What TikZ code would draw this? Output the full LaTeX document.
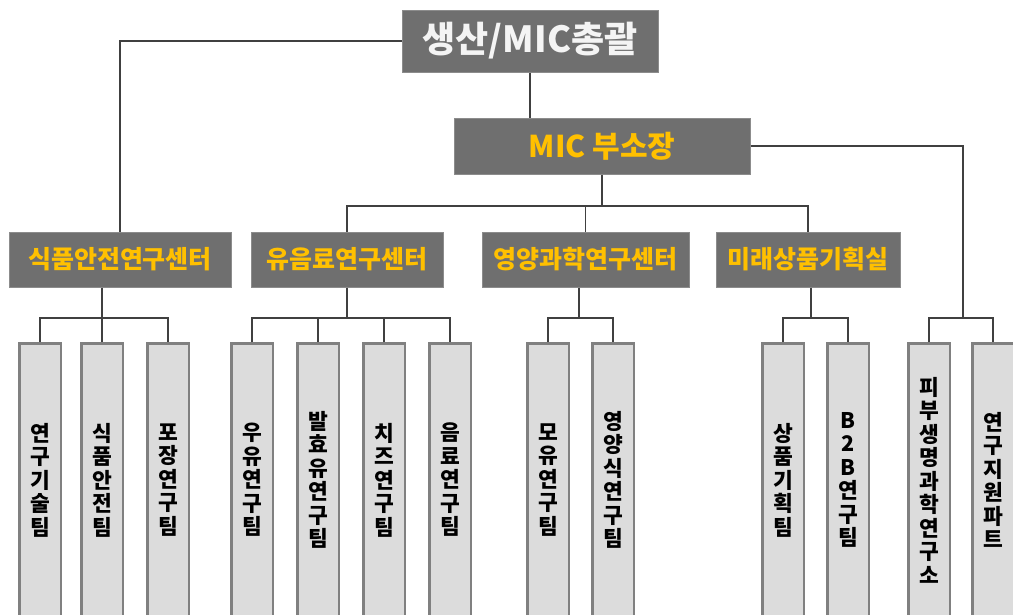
\documentclass[tikz,border=0pt]{standalone}
\usepackage{fontspec}
\setmainfont{Noto Sans CJK KR}

\definecolor{headgray}{HTML}{6F6F6F}
\definecolor{headedge}{HTML}{8C8C8C}
\definecolor{gold}{HTML}{FFC000}
\definecolor{paleword}{HTML}{F4F4F4}
\definecolor{teamfill}{HTML}{DCDCDC}
\definecolor{teamedge}{HTML}{808080}
\definecolor{linegray}{HTML}{404040}

\tikzset{
    head/.style={fill=headgray, draw=headedge, line width=1pt, inner sep=0pt, text=gold},
    team/.style={fill=teamfill, draw=teamedge, line width=2.5pt, inner sep=0pt,
        minimum width=41.5pt, minimum height=273.5pt, align=center,
        font=\bfseries\fontsize{21.5}{23.5}\selectfont},
    link/.style={draw=linegray, line width=1.3pt}
}

\begin{document}
\begin{tikzpicture}[x=1pt, y=1pt]
    \useasboundingbox (0,0) rectangle (1013,-614);

        % top of the chart
        \node[head, minimum width=256pt, minimum height=62pt, text=paleword,
              font=\bfseries\fontsize{36}{38}\selectfont] (top) at (530,-41) {생산/MIC총괄};
        \node[head, minimum width=296pt, minimum height=56pt,
              font=\bfseries\fontsize{30}{32}\selectfont] (mic) at (602,-146) {MIC 부소장};

        % centers
        \begin{scope}[every node/.style={head, minimum height=55pt, font=\bfseries\fontsize{25}{27}\selectfont}]
            \node[minimum width=222pt] (food) at (120,-259.5) {식품안전연구센터};
            \node[minimum width=192pt] (dairy) at (347,-259.5) {유음료연구센터};
            \node[minimum width=207pt] (nutri) at (585.5,-259.5) {영양과학연구센터};
            \node[minimum width=184pt] (future) at (808,-259.5) {미래상품기획실};
        \end{scope}

        % teams
        \begin{scope}[every node/.style={team}]
            \node (f1) at (40,-480) {연\\구\\기\\술\\팀};
            \node (f2) at (102,-480) {식\\품\\안\\전\\팀};
            \node (f3) at (168,-480) {포\\장\\연\\구\\팀};
            
            \node (d1) at (252,-480) {우\\유\\연\\구\\팀};
            \node (d2) at (318,-480) {발\\효\\유\\연\\구\\팀};
            \node (d3) at (384,-480) {치\\즈\\연\\구\\팀};
            \node (d4) at (450,-480) {음\\료\\연\\구\\팀};
            
            \node (n1) at (548,-480) {모\\유\\연\\구\\팀};
            \node (n2) at (613,-480) {영\\양\\식\\연\\구\\팀};
            
            \node (p1) at (783,-480) {상\\품\\기\\획\\팀};
            \node (p2) at (848,-480) {B\\2\\B\\연\\구\\팀};
            
            \node (r1) at (929,-480) {피\\부\\생\\명\\과\\학\\연\\구\\소};
            \node (r2) at (993,-480) {연\\구\\지\\원\\파\\트};
        \end{scope}

        \coordinate (mbus) at (0,-206);
        \coordinate (tbus) at (0,-318);
        \coordinate (rjoin) at (963,-318);

        \begin{scope}[every path/.style={link}]
            \draw (top.west) -| (food.north);
            \draw (top.south) -- (top.south |- mic.north);
            \draw (mic.east) -| (rjoin);
            
            \draw (mic.south) -- (mic.south |- mbus);
            \draw (dairy.north) |- (mbus -| future.north) -- (future.north);
            \draw (nutri.north) -- (nutri.north |- mbus);
            
            \draw (food.south -| f2.north) -- (f2.north);
            \draw (f1.north) |- (tbus -| f3.north) -- (f3.north);
            
            \draw (dairy.south) -- (dairy.south |- tbus);
            \draw (d1.north) |- (tbus -| d4.north) -- (d4.north);
            \draw (d2.north) -- (d2.north |- tbus);
            \draw (d3.north) -- (d3.north |- tbus);
            
            \draw ([xshift=-6.5pt]nutri.south) -- ([xshift=-6.5pt]nutri.south |- tbus);
            \draw (n1.north) |- (tbus -| n2.north) -- (n2.north);
            
            \draw ([xshift=3pt]future.south) -- ([xshift=3pt]future.south |- tbus);
            \draw (p1.north) |- (tbus -| p2.north) -- (p2.north);
            
            \draw (r1.north) |- (rjoin) -| (r2.north);
        \end{scope}
    
    \end{tikzpicture}
\end{document}
